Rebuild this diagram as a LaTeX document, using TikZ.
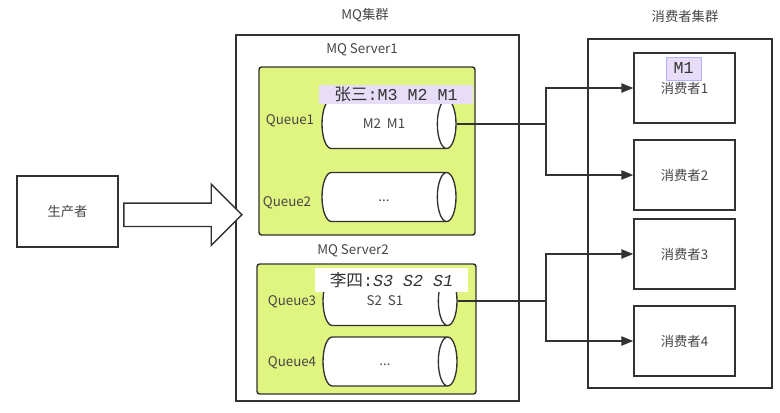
\documentclass[tikz,border=0pt]{standalone}
\usepackage{fontspec}
\setmainfont{Noto Sans CJK SC}
\setmonofont{Liberation Mono}
\usepackage{tikz}
\usetikzlibrary{shapes.geometric,shapes.arrows,arrows.meta,positioning,calc}
\usepackage{xcolor}
\definecolor{qgreen}{RGB}{224,245,128}
\definecolor{tagpurple}{RGB}{232,221,249}
\definecolor{linegray}{RGB}{50,50,50}
\definecolor{textgray}{RGB}{70,70,70}

\begin{document}
\begin{tikzpicture}[x=0.75pt,y=-0.75pt,
    every node/.style={text=textgray, font=\fontsize{10}{12}\selectfont},
    frame/.style={draw=linegray, line width=1.1pt, fill=white, inner sep=0pt},
    server/.style={draw=linegray, line width=1.1pt, fill=qgreen, rounded corners=2pt, inner sep=0pt},
    queue/.style={cylinder, draw=linegray, line width=1pt, fill=white, shape aspect=1.4,
        text height=8pt, text depth=2pt,
        minimum height=100.5pt, minimum width=36.75pt, inner sep=0pt},
    consumer/.style={frame, minimum width=75.75pt, minimum height=52.5pt},
    tag/.style={fill=tagpurple, inner sep=1pt, font=\fontsize{12.5}{14}\selectfont, text=black!80},
    link/.style={draw=linegray, line width=1.2pt},
    flow/.style={link, -{Triangle[length=9pt,width=7pt]}}]
\useasboundingbox (0,0) rectangle (780,412);

% Producer and big arrow
\node[frame, minimum width=75.75pt, minimum height=53.25pt] (prod) at (67.5,211.5) {生产者};

% MQ cluster
\node at (365,15) {MQ集群};
\node[frame, minimum width=212.25pt, minimum height=274.5pt] (mq) at (377.5,218) {};
\node[single arrow, draw=linegray, line width=1pt, fill=white, inner xsep=0pt, inner ysep=8.25pt,
      minimum height=88.5pt, single arrow head extend=14.25pt,
      single arrow head indent=0pt] (push) at ($(prod.east)!0.5!(mq.west)$) {};

\node at (362,50) {MQ Server1};
\node[server, minimum width=162pt, minimum height=126pt] (s1) at (367,151) {};
\node[queue] (q1) at (384,124) {M2\ \ M1};
\node[queue] (q2) at (384,197) {...};
\node at (290,121) {Queue1};
\node at (287,203) {Queue2};
\node[tag, minimum width=115.5pt, minimum height=14.25pt] (t1) at (396,94.5) {张三\texttt{:M3 M2 M1}};

\node at (353,251) {MQ Server2};
\node[server, minimum width=164.25pt, minimum height=97.5pt] (s2) at (366.5,329) {};
\node[queue] (q3) at (385,301) {S2\ \ S1};
\node[queue] (q4) at (385,361.5) {...};
\node at (292,302) {Queue3};
\node at (292,363) {Queue4};
\node[tag, fill=white, minimum width=114.75pt, minimum height=18pt] (t2) at (391.5,280) {李四\texttt{:\textit{S3 S2 S1}}};

% Consumer cluster
\node at (685,16) {消费者集群};
\node[frame, minimum width=138pt, minimum height=261.75pt] (cc) at (680,213.5) {};
\node[consumer] (c1) at (684.5,88) {消费者1};
\node[consumer] (c2) at (684.5,175) {消费者2};
\node[consumer] (c3) at (684.5,254) {消费者3};
\node[consumer] (c4) at (684.5,341) {消费者4};
\node[tag, draw=blue!30, minimum width=26.25pt, minimum height=17.25pt] (t3) at (683.5,68.5) {\texttt{M1}};

% Links
\coordinate (j1) at (546,124);
\coordinate (j2) at (546,301);
\draw[link] (q1.east) -- (j1);
\draw[flow] (j1) |- (c1.west);
\draw[flow] (j1) |- (c2.west);
\draw[link] (q3.east) -- (j2);
\draw[flow] (j2) |- (c3.west);
\draw[flow] (j2) |- (c4.west);
\end{tikzpicture}
\end{document}
